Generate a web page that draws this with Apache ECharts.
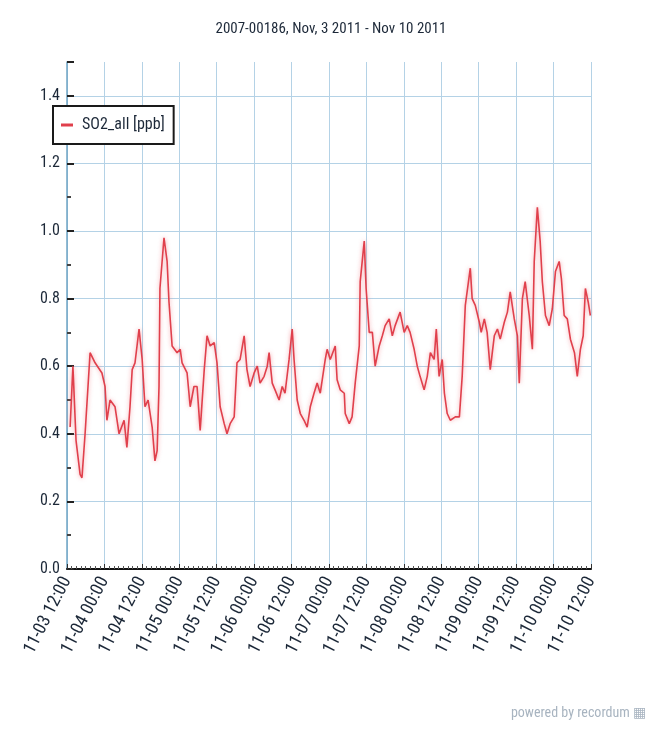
<!DOCTYPE html>
<html><head><meta charset="utf-8">
<script src="https://cdn.jsdelivr.net/npm/echarts@6/dist/echarts.min.js"></script>
<style>html,body{margin:0;padding:0;background:#fff}#c{width:662px;height:731px}</style>
</head><body><div id="c"></div>
<script>
const titleText = '2007-00186, Nov, 3 2011 - Nov 10 2011';
const seriesName = 'SO2_all [ppb]';
const tickLabels = ['11-03 12:00','11-04 00:00','11-04 12:00','11-05 00:00','11-05 12:00','11-06 00:00','11-06 12:00','11-07 00:00','11-07 12:00','11-08 00:00','11-08 12:00','11-09 00:00','11-09 12:00','11-10 00:00','11-10 12:00'];
// hours after 11-03 12:00
const hours = [1.0,1.9,2.9,4.2,4.8,5.8,7.4,9.0,11.2,12.2,12.8,13.8,15.4,16.7,18.3,19.2,20.2,20.9,21.8,23.1,24.1,25.0,26.0,27.3,28.2,28.9,29.5,29.8,31.1,32.1,32.7,33.7,35.3,36.3,36.9,38.5,39.5,40.7,41.7,42.7,44.0,44.9,45.9,47.2,48.1,49.1,50.4,51.3,52.3,53.6,54.5,55.5,56.8,57.7,58.7,60.0,61.0,61.9,63.2,64.2,64.8,65.8,66.7,68.0,69.0,69.9,71.2,72.2,72.8,73.8,74.8,76.0,77.0,78.0,79.2,80.2,81.2,82.8,83.4,84.4,86.0,86.6,87.6,88.9,89.2,90.5,91.4,92.4,93.7,94.0,95.3,95.9,96.9,97.9,98.8,100.1,101.1,102.0,103.3,104.3,105.2,106.8,108.1,109.1,110.0,111.3,112.3,113.2,114.5,115.5,116.5,117.7,118.4,119.3,120.3,121.0,121.9,122.9,124.5,125.8,126.7,127.7,129.3,129.9,130.9,132.2,132.8,133.8,134.7,135.7,137.0,138.0,138.9,140.2,141.2,142.1,143.4,144.4,145.0,146.0,146.9,148.2,149.2,149.8,150.8,151.7,152.4,153.4,154.6,155.6,156.6,157.8,158.5,159.4,160.4,161.4,162.7,163.6,164.6,165.5,166.2,167.1,167.8];
const so2 = [0.42,0.60,0.38,0.28,0.27,0.40,0.64,0.61,0.58,0.54,0.44,0.50,0.48,0.40,0.44,0.36,0.48,0.59,0.61,0.71,0.62,0.48,0.50,0.42,0.32,0.35,0.54,0.83,0.98,0.91,0.79,0.66,0.64,0.65,0.61,0.58,0.48,0.54,0.54,0.41,0.59,0.69,0.66,0.67,0.61,0.48,0.43,0.40,0.43,0.45,0.61,0.62,0.69,0.59,0.54,0.58,0.60,0.55,0.57,0.60,0.64,0.55,0.53,0.50,0.54,0.52,0.62,0.71,0.62,0.50,0.46,0.44,0.42,0.48,0.52,0.55,0.52,0.62,0.65,0.62,0.66,0.56,0.53,0.52,0.46,0.43,0.45,0.55,0.66,0.85,0.97,0.83,0.70,0.70,0.60,0.66,0.69,0.72,0.74,0.69,0.72,0.76,0.70,0.72,0.70,0.65,0.60,0.57,0.53,0.57,0.64,0.62,0.71,0.57,0.62,0.52,0.46,0.44,0.45,0.45,0.57,0.78,0.89,0.80,0.78,0.73,0.70,0.74,0.70,0.59,0.69,0.71,0.68,0.73,0.76,0.82,0.74,0.69,0.55,0.80,0.85,0.75,0.65,0.91,1.07,0.97,0.85,0.75,0.72,0.77,0.88,0.91,0.86,0.75,0.74,0.68,0.64,0.57,0.65,0.69,0.83,0.79,0.75];

const font = 'Roboto, "DejaVu Sans Condensed", sans-serif';
const fstyle = 'condensed';
const textCol = '#1c2838';
const data = hours.map((h, i) => [h, so2[i]]);

const chart = echarts.init(document.getElementById('c'), null, {renderer: 'canvas'});
chart.setOption({
  backgroundColor: '#ffffff',
  animation: false,
  title: {
    text: titleText, left: 'center', top: 17,
    textStyle: {fontFamily: font, fontStyle: fstyle, fontSize: 15, fontWeight: 'normal', color: textCol}
  },
  legend: {
    left: 53, top: 106, orient: 'vertical',
    padding: [11, 9, 11, 8],
    borderColor: '#1a1a1a', borderWidth: 2, backgroundColor: '#fff',
    itemWidth: 12, itemHeight: 3, itemGap: 4,
    icon: 'rect',
    textStyle: {fontFamily: font, fontStyle: fstyle, fontSize: 16, color: textCol, padding: [0, 0, 0, 4]},
    data: [seriesName]
  },
  grid: {left: 67, right: 71, top: 62, bottom: 162, containLabel: false},
  xAxis: {
    type: 'value', min: 0, max: 168, interval: 12,
    axisLine: {show: true, onZero: false, lineStyle: {color: '#111', width: 2}},
    axisTick: {show: true, inside: true, length: 5, lineStyle: {color: '#333'}},
    minorTick: {show: true, splitNumber: 8, length: 3, lineStyle: {color: '#555'}},
    splitLine: {show: true, lineStyle: {color: '#b4d2e6', width: 1}},
    axisLabel: {
      rotate: 63, margin: 9, fontFamily: font, fontStyle: fstyle, fontSize: 18, color: textCol,
      formatter: v => tickLabels[Math.round(v / 12)] || ''
    }
  },
  yAxis: {
    type: 'value', min: 0, max: 1.5, interval: 0.2,
    axisLine: {show: true, lineStyle: {color: '#6fa4c4', width: 1.5}},
    axisTick: {show: true, inside: true, length: 7, lineStyle: {color: '#222', width: 2}},
    minorTick: {show: true, splitNumber: 2, length: 4, lineStyle: {color: '#444', width: 2}},
    splitLine: {show: true, showMaxLine: false, lineStyle: {color: '#b4d2e6', width: 1}},
    axisLabel: {
      showMaxLabel: false, margin: 7, fontFamily: font, fontStyle: fstyle, fontSize: 16, color: textCol,
      formatter: v => v.toFixed(1)
    }
  },
  series: [{
    name: seriesName, type: 'line', data: data, showSymbol: false,
    lineStyle: {color: '#e0404c', width: 1.6, shadowColor: 'rgba(240,120,130,0.7)', shadowBlur: 4},
    itemStyle: {color: '#e0404c'}
  }],
  graphic: [{
    type: 'text', right: 16, top: 706,
    style: {text: 'powered by recordum ▦', font: 'condensed 14px Roboto, sans-serif', fill: '#a8b4c0'}
  }]
});
</script></body></html>
